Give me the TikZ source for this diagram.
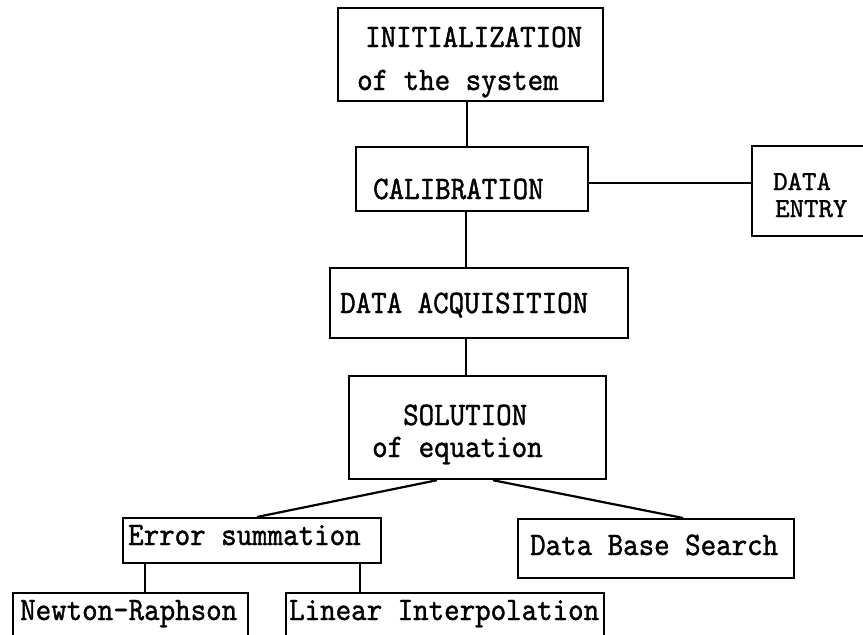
\documentclass[tikz,border=0pt]{standalone}
\usepackage{fontspec}
\newfontfamily\tw[FakeStretch=0.9,FakeBold=1.2]{lmmono10-regular.otf}
\newfontfamily\twb[FakeBold=1.2]{lmmono10-regular.otf}
\begin{document}
\begin{tikzpicture}[x=1pt,y=-1pt,
  box/.style={draw,line width=2.2pt,rectangle,inner sep=0pt,anchor=north west},
  txt/.style={anchor=base west,inner sep=0pt,font=\tw\fontsize{32.8}{33}\selectfont},
  stxt/.style={anchor=base west,inner sep=0pt,font=\twb\fontsize{27.5}{28}\selectfont},
  conn/.style={line width=2.2pt}]
\useasboundingbox (0,0) rectangle (863,635);
\clip (0,0) rectangle (863,635);
% boxes
\node[box,minimum width=265pt,minimum height=93pt] (init) at (337,7) {};
\node[box,minimum width=232pt,minimum height=64pt] (calib) at (355,146) {};
\node[box,minimum width=160pt,minimum height=90pt] (de) at (751,145) {};
\node[box,minimum width=298pt,minimum height=70pt] (acq) at (329,267) {};
\node[box,minimum width=257pt,minimum height=103pt] (sol) at (348,375) {};
\node[box,minimum width=258pt,minimum height=45pt] (err) at (122,517) {};
\node[box,minimum width=276pt,minimum height=59pt] (dbs) at (517,518) {};
\node[box,minimum width=235pt,minimum height=60pt] (nr) at (12,592) {};
\node[box,minimum width=318pt,minimum height=60pt] (li) at (285,592) {};
% texts
\node[txt] (t1) at (365,47) {INITIALIZATION};
\node[txt] (t2) at (357,90) {of the system};
\node[txt] (t3) at (373,199) {CALIBRATION};
\node[stxt] (t4) at (773,190) {DATA};
\node[stxt] (t5) at (775,217) {ENTRY};
\node[txt] (t6) at (340,313) {DATA ACQUISITION};
\node[txt] (t7) at (403,425) {SOLUTION};
\node[txt] (t8) at (372,457) {of equation};
\node[txt] (t9) at (128,545) {Error summation};
\node[txt] (t10) at (530,555) {Data Base Search};
\node[txt] (t11) at (20,620) {Newton-Raphson};
\node[txt] (t12) at (289,620) {Linear Interpolation};
% connectors
\draw[conn] ([xshift=130pt]init.south west) -- ([xshift=112pt]calib.north west);
\draw[conn] ([yshift=29pt]calib.south east) -- ([yshift=54pt]de.south west);
\draw[conn] ([xshift=111pt]calib.south west) -- ([xshift=137pt]acq.north west);
\draw[conn] ([xshift=137pt]acq.south west) -- ([xshift=118pt]sol.north west);
\draw[conn] ([xshift=89pt]sol.south west) -- ([xshift=135pt]err.north west);
\draw[conn] ([xshift=145pt]sol.south west) -- ([xshift=166pt]dbs.north west);
\draw[conn] ([xshift=23pt]err.south west) -- ([xshift=133pt]nr.north west);
\draw[conn] ([xshift=238pt]err.south west) -- ([xshift=75pt]li.north west);
\end{tikzpicture}
\end{document}
